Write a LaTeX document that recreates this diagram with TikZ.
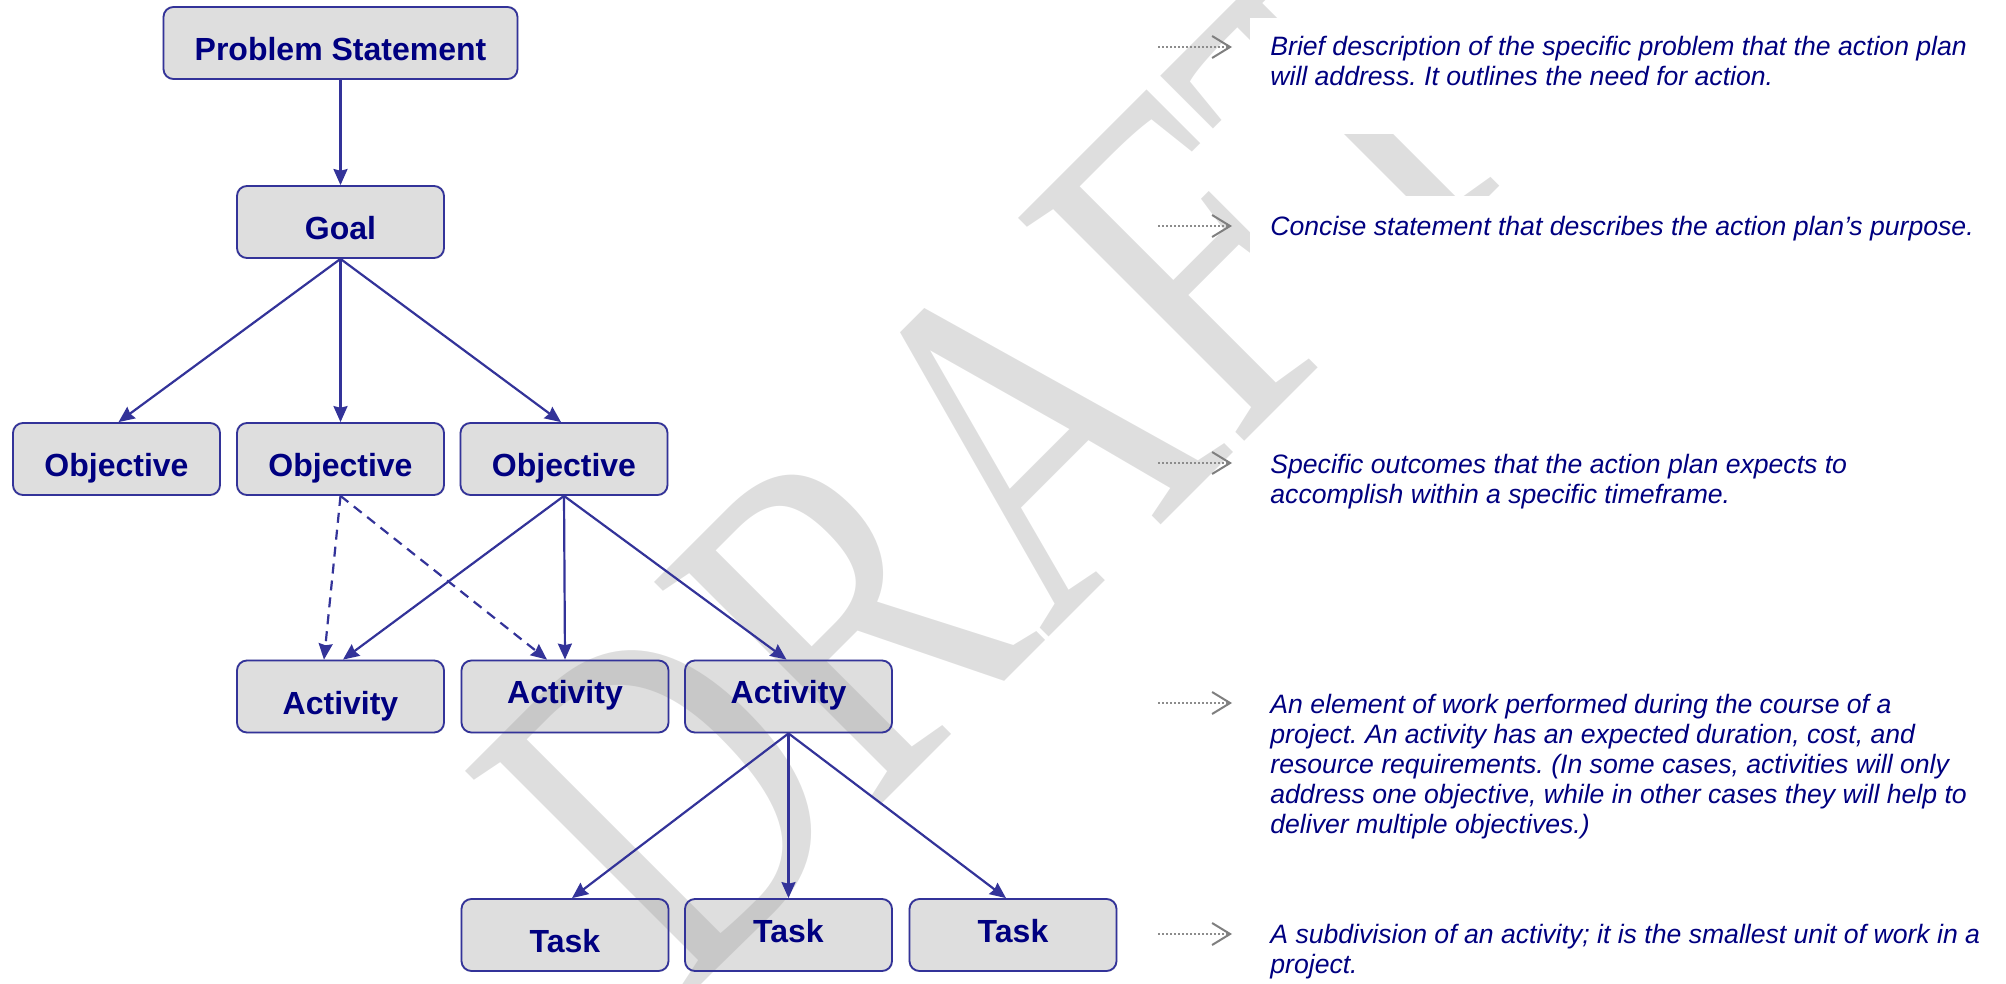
\documentclass[tikz,border=0pt]{standalone}
\usepackage{fontspec}
\setmainfont{Liberation Sans}
\newfontfamily\wmfont{Liberation Serif}
\usetikzlibrary{arrows.meta}
\frenchspacing

\definecolor{boxfill}{HTML}{DEDEDE}
\definecolor{boxline}{HTML}{333399}
\definecolor{navytext}{HTML}{000080}
\definecolor{pointergray}{HTML}{7F7F7F}
\definecolor{dotgray}{HTML}{8C8C8C}
\definecolor{wmgray}{RGB}{156,156,156}

\pgfdeclarelayer{fills}
\pgfdeclarelayer{watermark}
\pgfsetlayers{fills,watermark,main}

\begin{document}
\begin{tikzpicture}[x=0.5pt, y=-0.5pt,
  planbox/.style={draw=boxline, line width=0.9pt, rounded corners=5pt,
    minimum width=103.5pt, minimum height=36pt, inner sep=0pt,
    font=\fontsize{16}{19}\selectfont\bfseries, text=navytext,
    text height=21.25pt, text depth=3.75pt},
  raised/.style={text height=16pt, text depth=9pt},
  link/.style={draw=boxline, line width=1.1pt,
    -{Stealth[length=8pt, width=7pt, inset=0.8pt]}},
  maybe/.style={link, dash pattern=on 5pt off 3.5pt},
  note/.style={anchor=base west, inner sep=0pt, text=navytext,
    font=\fontsize{13.3}{15}\selectfont\itshape},
  pointer/.style={draw=dotgray, line width=0.85pt,
    dash pattern=on 0.85pt off 1.15pt,
    -{Straight Barb[length=9pt, width=11pt, line width=1pt, color=pointergray]}}
]
\useasboundingbox (0,0) rectangle (2006,984);

% hierarchy boxes
\node[planbox, minimum width=177pt] (ps) at (340.5,43) {Problem Statement};
\node[planbox] (goal) at (340.5,222) {Goal};
\node[planbox] (obj1) at (116.5,459) {Objective};
\node[planbox] (obj2) at (340.5,459) {Objective};
\node[planbox] (obj3) at (564,459) {Objective};
\node[planbox] (act1) at (340.5,696.5) {Activity};
\node[planbox, raised] (act2) at (565,696.5) {Activity};
\node[planbox, raised] (act3) at (788.5,696.5) {Activity};
\node[planbox] (task1) at (565,935) {Task};
\node[planbox, raised] (task2) at (788.5,935) {Task};
\node[planbox, raised] (task3) at (1013,935) {Task};

% box fills sit underneath the watermark
\begin{pgfonlayer}{fills}
  \foreach \b in {ps,goal,obj1,obj2,obj3,act1,act2,act3,task1,task2,task3}
    \fill[boxfill, rounded corners=5pt] (\b.south west) rectangle (\b.north east);
\end{pgfonlayer}

% connectors
\draw[link] (ps.south) -- (goal.north);
\draw[link] (goal.south) -- ([xshift=1pt]obj1.north);
\draw[link] (goal.south) -- (obj2.north);
\draw[link] (goal.south) -- ([xshift=-1.5pt]obj3.north);
\draw[link] (obj3.south) -- ([xshift=1.25pt]act1.north);
\draw[link] (obj3.south) -- (act2.north);
\draw[link] (obj3.south) -- ([xshift=-1pt]act3.north);
\draw[maybe] (obj2.south) -- ([xshift=-8.25pt]act1.north);
\draw[maybe] (obj2.south) -- ([xshift=-9pt]act2.north);
\draw[link] (act3.south) -- ([xshift=3.5pt]task1.north);
\draw[link] (act3.south) -- (task2.north);
\draw[link] (act3.south) -- ([xshift=-3.5pt]task3.north);

% watermark
\begin{pgfonlayer}{watermark}
  \begin{scope}[transparency group, opacity=0.33]
    \begin{scope}[shift={(682.5,1003.5)}, rotate=45, xscale=0.763]
      \node[transform shape, anchor=base west, inner sep=0pt, text=wmgray,
        font=\wmfont\fontsize{242.5}{250}\selectfont] (wm) at (0,0) {DRAFT};
    \end{scope}
  \end{scope}
  \fill[white] (1250,18) rectangle (1995,134);
  \fill[white] (1250,196) rectangle (1995,300);
\end{pgfonlayer}

% descriptions
\node[note] (d1) at (1270,56) {\begin{tabular}[t]{@{}l@{}}Brief description of the specific problem that the action plan\\ will address. It outlines the need for action.\end{tabular}};
\node[note] (d2) at (1270,235) {\begin{tabular}[t]{@{}l@{}}Concise statement that describes the action plan’s purpose.\end{tabular}};
\node[note] (d3) at (1270,473) {\begin{tabular}[t]{@{}l@{}}Specific outcomes that the action plan expects to\\ accomplish within a specific timeframe.\end{tabular}};
\node[note] (d4) at (1270,713) {\begin{tabular}[t]{@{}l@{}}An element of work performed during the course of a\\ project. An activity has an expected duration, cost, and\\ resource requirements. (In some cases, activities will only\\ address one objective, while in other cases they will help to\\ deliver multiple objectives.)\end{tabular}};
\node[note] (d5) at (1270,943) {\begin{tabular}[t]{@{}l@{}}A subdivision of an activity; it is the smallest unit of work in a\\ project.\end{tabular}};

% pointers to the descriptions
\coordinate (p1a) at (1158,47);  \coordinate (p1b) at (1232,47);
\coordinate (p2a) at (1158,226); \coordinate (p2b) at (1232,226);
\coordinate (p3a) at (1158,463); \coordinate (p3b) at (1232,463);
\coordinate (p4a) at (1158,703); \coordinate (p4b) at (1232,703);
\coordinate (p5a) at (1158,934); \coordinate (p5b) at (1232,934);
\foreach \i in {1,...,5}
  \draw[pointer] (p\i a) -- (p\i b);
\end{tikzpicture}
\end{document}
